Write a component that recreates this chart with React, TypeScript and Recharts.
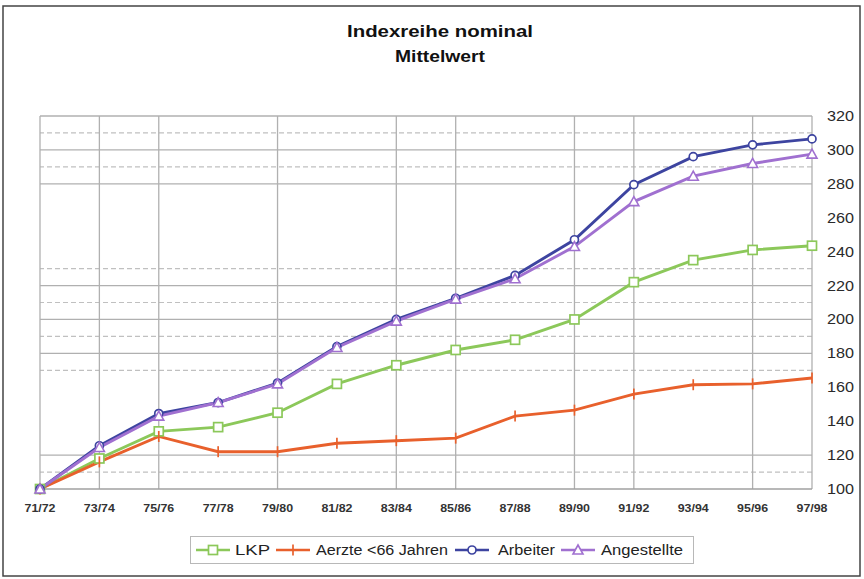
import React from 'react';
import { LineChart, Line, XAxis, YAxis, ReferenceLine, Legend } from 'recharts';

const years = ['71/72', '73/74', '75/76', '77/78', '79/80', '81/82', '83/84', '85/86', '87/88', '89/90', '91/92', '93/94', '95/96', '97/98'];
const lkp = [100, 118, 134, 136.5, 145, 162, 173, 182, 188, 200, 222, 235, 241, 243.5];
const aerzte = [100, 116, 131, 122, 122, 127, 128.5, 130, 143, 146.5, 156, 161.5, 162, 165.5];
const arbeiter = [100, 125.5, 144.5, 151, 162.5, 184, 200, 212.5, 226, 247, 279.5, 296, 303, 306.5];
const angestellte = [100, 124.5, 143, 151, 162, 183.5, 199, 212, 224, 243, 269.5, 284.5, 292, 297.5];

const yTicks = [100, 120, 140, 160, 180, 200, 220, 240, 260, 280, 300, 320];
const solidGridY = [120, 180, 200, 220, 280, 300, 320];
const dashedGridY = [110, 170, 190, 210, 230, 290, 310];
const gridX = ['71/72', '73/74', '75/76', '79/80', '83/84', '85/86', '89/90', '91/92', '95/96', '97/98'];

const seriesNames = ['LKP', 'Aerzte <66 Jahren', 'Arbeiter', 'Angestellte'];
const seriesKeys = ['lkp', 'aerzte', 'arbeiter', 'angestellte'];
const seriesColors = ['#8cc85a', '#e8602c', '#3d44a0', '#a070d0'];
const seriesShapes = ['square', 'tick', 'diamond', 'triangle'];

const data = years.map((y, i) => ({
  year: y,
  lkp: lkp[i],
  aerzte: aerzte[i],
  arbeiter: arbeiter[i],
  angestellte: angestellte[i],
}));

const FONT = 'Arial, "Liberation Sans", sans-serif';

function Marker({ shape, color, cx, cy }: { shape: string; color: string; cx: number; cy: number }) {
  if (shape === 'square') {
    return <rect x={cx - 4.5} y={cy - 4.5} width={9} height={9} fill="#fff" stroke={color} strokeWidth={1.7} />;
  }
  if (shape === 'tick') {
    return <line x1={cx} y1={cy - 5.5} x2={cx} y2={cy + 5.5} stroke={color} strokeWidth={1.7} />;
  }
  if (shape === 'diamond') {
    return <circle cx={cx} cy={cy} r={4} fill="#fff" stroke={color} strokeWidth={1.7} />;
  }
  return (
    <path
      d={`M${cx},${cy - 5} L${cx + 5},${cy + 4} L${cx - 5},${cy + 4} Z`}
      fill="#fff"
      stroke={color}
      strokeWidth={1.6}
    />
  );
}

const makeDot = (shape: string, color: string) => (props: any) => {
  const { cx, cy, index } = props;
  if (cx == null || cy == null) return <g key={`d-${index}`} />;
  return (
    <g key={`d-${shape}-${index}`}>
      <Marker shape={shape} color={color} cx={cx} cy={cy} />
    </g>
  );
};

const XTick = (props: any) => {
  const { x, y, payload } = props;
  return (
    <text x={x} y={y} dy={15} textAnchor="middle" fontFamily={FONT} fontSize={11} fontWeight="bold" fill="#333" textLength={31} lengthAdjust="spacingAndGlyphs">
      {payload.value}
    </text>
  );
};

const YTick = (props: any) => {
  const { x, y, payload } = props;
  return (
    <text x={x} y={y} dx={7} dy={5} textAnchor="start" fontFamily={FONT} fontSize={14} fill="#2a2a2a" textLength={27} lengthAdjust="spacingAndGlyphs">
      {payload.value}
    </text>
  );
};

const legendIconX = [6, 86, 265, 371];
const legendTextX = [45, 126, 308, 411];
const legendTextW = [35, 132, 57, 82];

const LegendContent = () => (
  <svg width={504} height={28} style={{ display: 'block' }}>
    <rect x={0.5} y={0.5} width={503} height={27} fill="#fff" stroke="#b8b8b8" strokeWidth={1} />
    {seriesNames.map((n, i) => (
      <g key={n}>
        <line x1={legendIconX[i]} y1={14} x2={legendIconX[i] + 34} y2={14} stroke={seriesColors[i]} strokeWidth={2.6} />
        <Marker shape={seriesShapes[i]} color={seriesColors[i]} cx={legendIconX[i] + 17} cy={14} />
        <text x={legendTextX[i]} y={19} fontFamily={FONT} fontSize={14} fill="#222" textLength={legendTextW[i]} lengthAdjust="spacingAndGlyphs">
          {n}
        </text>
      </g>
    ))}
  </svg>
);

export default function App() {
  return (
    <div style={{ position: 'absolute', left: 0, top: 0, width: 864, height: 579, background: '#fff' }}>
      <LineChart
        width={864}
        height={579}
        data={data}
        margin={{ top: 116, right: 12, bottom: 70, left: 40 }}
      >
        {solidGridY.map((v) => (
          <ReferenceLine key={`s${v}`} y={v} stroke="#b0b0b0" strokeWidth={1.3} />
        ))}
        {dashedGridY.map((v) => (
          <ReferenceLine key={`d${v}`} y={v} stroke="#c0c0c0" strokeWidth={1.2} strokeDasharray="5 3" />
        ))}
        {gridX.map((v) => (
          <ReferenceLine key={`x${v}`} x={v} stroke="#b0b0b0" strokeWidth={1.3} />
        ))}
        <XAxis
          dataKey="year"
          height={20}
          interval={0}
          axisLine={{ stroke: '#a0a0a0', strokeWidth: 1.3 }}
          tickLine={false}
          tick={<XTick />}
        />
        <YAxis
          orientation="right"
          width={40}
          domain={[100, 320]}
          ticks={yTicks}
          interval={0}
          axisLine={false}
          tickLine={false}
          tick={<YTick />}
        />
        <Legend
          verticalAlign="middle"
          align="center"
          layout="horizontal"
          wrapperStyle={{ top: 536, left: 190, width: 504, height: 28 }}
          content={<LegendContent />}
        />
        {seriesKeys.map((k, i) => (
          <Line
            key={k}
            type="linear"
            dataKey={k}
            name={seriesNames[i]}
            stroke={seriesColors[i]}
            strokeWidth={2.9}
            dot={makeDot(seriesShapes[i], seriesColors[i])}
            activeDot={false}
            isAnimationActive={false}
          />
        ))}
      </LineChart>
      <svg width={864} height={579} style={{ position: 'absolute', left: 0, top: 0, pointerEvents: 'none' }}>
        <rect x={3} y={6} width={857} height={570} fill="none" stroke="#444" strokeWidth={1.5} />
        <text x={440} y={37} textAnchor="middle" fontFamily={FONT} fontSize={16} fontWeight="bold" fill="#111" textLength={186} lengthAdjust="spacingAndGlyphs">
          Indexreihe nominal
        </text>
        <text x={440} y={62} textAnchor="middle" fontFamily={FONT} fontSize={16} fontWeight="bold" fill="#111" textLength={90} lengthAdjust="spacingAndGlyphs">
          Mittelwert
        </text>
      </svg>
    </div>
  );
}
